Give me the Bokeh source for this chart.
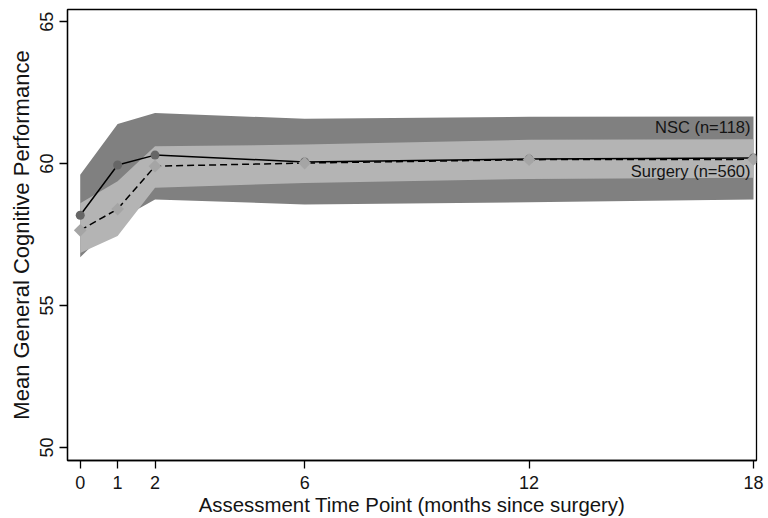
import numpy as np
from bokeh.plotting import figure
from bokeh.models import Range1d, FixedTicker, Label
from bokeh.embed import file_html
from bokeh.resources import INLINE

# Data
months = [0, 1, 2, 6, 12, 18]
nsc_mean = [58.18, 59.95, 60.30, 60.06, 60.16, 60.20]
nsc_lower = [56.70, 58.00, 58.74, 58.56, 58.64, 58.74]
nsc_upper = [59.61, 61.40, 61.78, 61.58, 61.65, 61.66]
surg_mean = [57.65, 58.40, 59.91, 60.02, 60.14, 60.15]
surg_lower = [56.85, 57.45, 59.15, 59.32, 59.46, 59.50]
surg_upper = [58.60, 59.38, 60.61, 60.67, 60.84, 60.86]
x_ticks = [0, 1, 2, 6, 12, 18]
y_ticks = [50, 55, 60, 65]
series_labels = ["NSC (n=118)", "Surgery (n=560)"]
x_title = "Assessment Time Point (months since surgery)"
y_title = "Mean General Cognitive Performance"

FONT = "Liberation Sans"
TXT = "#141414"

p = figure(width=768, height=518,
           x_range=Range1d(-0.34, 18.08), y_range=Range1d(49.54, 65.43),
           output_backend="svg", toolbar_location=None,
           min_border_left=67, min_border_right=12, min_border_top=9,
           min_border_bottom=57)

p.xgrid.visible = False
p.ygrid.visible = False
p.outline_line_color = "black"
p.outline_line_width = 1.3
p.background_fill_color = "white"
p.border_fill_color = "white"

# confidence bands
p.varea(x=months, y1=nsc_lower, y2=nsc_upper, fill_color="#808080")
p.varea(x=months, y1=surg_lower, y2=surg_upper, fill_color="#b4b4b4")

# mean lines
p.line(months, nsc_mean, line_color="black", line_width=1.5)
p.line(months, surg_mean, line_color="black", line_width=1.5, line_dash="7 4")

# markers
p.scatter(months, nsc_mean, marker="circle", size=9,
          fill_color="#666666", line_color=None)
p.scatter(months, surg_mean, marker="square", angle=np.pi / 4, size=9,
          fill_color="#a5a5a5", line_color=None)

# series labels
p.add_layout(Label(x=months[-1], y=61.3, x_offset=-3, text=series_labels[0],
                   text_align="right", text_baseline="middle",
                   text_font=FONT, text_font_size="16.5px", text_color=TXT))
p.add_layout(Label(x=months[-1], y=59.74, x_offset=-3, text=series_labels[1],
                   text_align="right", text_baseline="middle",
                   text_font=FONT, text_font_size="16.5px", text_color=TXT))

for ax in (p.xaxis[0], p.yaxis[0]):
    ax.axis_line_color = "black"
    ax.axis_line_width = 1.3
    ax.major_tick_line_color = "black"
    ax.major_tick_line_width = 1.3
    ax.major_tick_out = 8
    ax.major_tick_in = 0
    ax.minor_tick_line_color = None
    ax.major_label_text_font = FONT
    ax.major_label_text_font_size = "18px"
    ax.major_label_text_color = TXT
    ax.axis_label_text_font = FONT
    ax.axis_label_text_font_style = "normal"
    ax.axis_label_text_color = TXT

p.xaxis[0].ticker = FixedTicker(ticks=x_ticks)
p.xaxis[0].axis_label = x_title
p.xaxis[0].axis_label_text_font_size = "20.4px"
p.xaxis[0].major_label_standoff = 7
p.xaxis[0].axis_label_standoff = 2

p.yaxis[0].ticker = FixedTicker(ticks=y_ticks)
p.yaxis[0].axis_label = y_title
p.yaxis[0].axis_label_text_font_size = "22px"
p.yaxis[0].major_label_orientation = "vertical"
p.yaxis[0].major_label_standoff = 6
p.yaxis[0].axis_label_standoff = 4

open("out.html", "w").write(file_html(p, INLINE))
